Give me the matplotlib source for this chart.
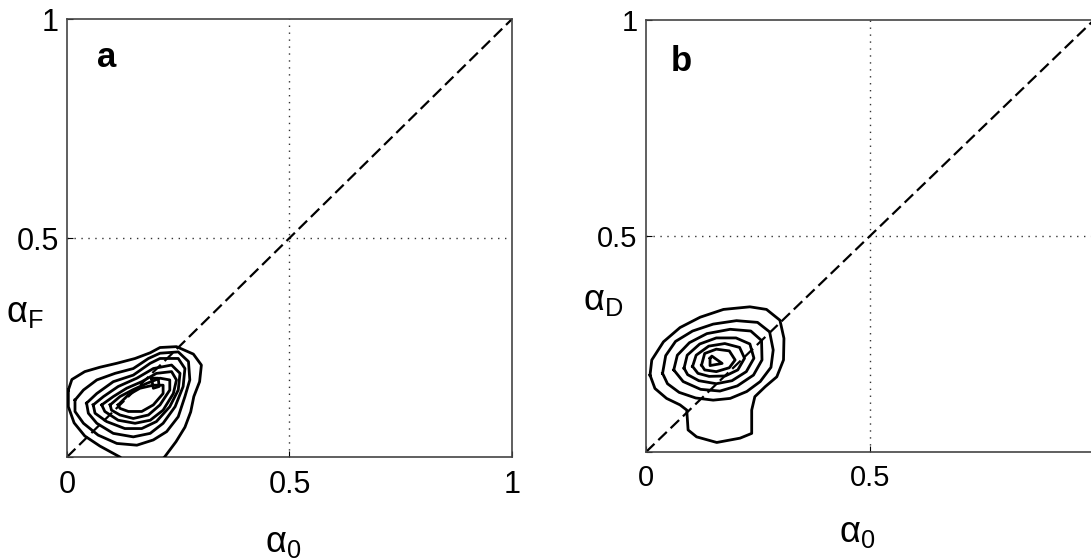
import numpy as np
import matplotlib
matplotlib.use('Agg')
import matplotlib.pyplot as plt

plt.rcParams['font.family'] = ['Liberation Sans', 'DejaVu Sans']
plt.rcParams['mathtext.default'] = 'regular'

# axis ticks shared by both panels
ticks = [0, 0.5, 1]
x_labels_a = ['0', '0.5', '1']
x_labels_b = ['0', '0.5', '']
y_labels = ['', '0.5', '1']

# contour lines of panel a (alpha_0 vs alpha_F), outer -> inner
a_rings = [
    [(0.003, 0.153), (0.011, 0.177), (0.040, 0.195), (0.074, 0.205), (0.112, 0.214),
     (0.153, 0.225), (0.187, 0.238), (0.209, 0.250), (0.246, 0.252), (0.284, 0.235),
     (0.302, 0.210), (0.298, 0.172), (0.285, 0.138), (0.278, 0.103), (0.265, 0.068),
     (0.245, 0.035), (0.220, 0.001), (0.20, -0.02), (0.14, -0.02), (0.119, 0.0),
     (0.074, 0.025), (0.040, 0.048), (0.016, 0.078), (0.003, 0.115)],
    [(0.018, 0.130), (0.037, 0.153), (0.067, 0.176), (0.108, 0.191), (0.149, 0.202),
     (0.183, 0.225), (0.209, 0.237), (0.250, 0.240), (0.273, 0.218), (0.276, 0.176),
     (0.265, 0.138), (0.250, 0.092), (0.224, 0.058), (0.194, 0.039), (0.157, 0.027),
     (0.112, 0.031), (0.070, 0.050), (0.037, 0.077), (0.018, 0.104)],
    [(0.044, 0.123), (0.067, 0.145), (0.104, 0.172), (0.149, 0.187), (0.187, 0.214),
     (0.209, 0.225), (0.250, 0.225), (0.265, 0.202), (0.261, 0.161), (0.243, 0.115),
     (0.216, 0.077), (0.187, 0.054), (0.149, 0.046), (0.104, 0.054), (0.067, 0.077),
     (0.048, 0.100)],
    [(0.059, 0.119), (0.082, 0.138), (0.115, 0.161), (0.157, 0.180), (0.194, 0.202),
     (0.235, 0.210), (0.254, 0.191), (0.250, 0.153), (0.231, 0.115), (0.201, 0.081),
     (0.168, 0.065), (0.130, 0.065), (0.089, 0.081), (0.063, 0.100)],
    [(0.078, 0.119), (0.104, 0.138), (0.134, 0.157), (0.168, 0.172), (0.201, 0.191),
     (0.235, 0.195), (0.246, 0.176), (0.239, 0.145), (0.216, 0.107), (0.187, 0.084),
     (0.153, 0.077), (0.115, 0.084), (0.085, 0.104)],
    [(0.097, 0.119), (0.119, 0.138), (0.149, 0.154), (0.179, 0.168), (0.209, 0.180),
     (0.231, 0.176), (0.231, 0.153), (0.209, 0.119), (0.183, 0.096), (0.149, 0.088),
     (0.119, 0.096), (0.100, 0.107)],
    [(0.115, 0.119), (0.138, 0.142), (0.164, 0.157), (0.194, 0.164), (0.216, 0.164),
     (0.216, 0.145), (0.194, 0.119), (0.168, 0.104), (0.138, 0.104), (0.119, 0.111)],
    [(0.190, 0.180), (0.205, 0.180), (0.207, 0.161), (0.194, 0.157)],
]

# contour lines of panel b (alpha_0 vs alpha_D), outer -> inner
b_rings = [
    [(0.009, 0.178), (0.013, 0.213), (0.039, 0.255), (0.076, 0.288), (0.121, 0.312),
     (0.173, 0.330), (0.232, 0.336), (0.269, 0.330), (0.299, 0.305), (0.308, 0.263),
     (0.307, 0.213), (0.292, 0.174), (0.266, 0.151), (0.243, 0.128), (0.236, 0.097),
     (0.236, 0.043), (0.210, 0.032), (0.158, 0.022), (0.113, 0.035), (0.094, 0.051),
     (0.091, 0.097), (0.076, 0.109), (0.046, 0.124), (0.020, 0.147)],
    [(0.037, 0.182), (0.044, 0.223), (0.066, 0.256), (0.104, 0.280), (0.150, 0.296),
     (0.202, 0.304), (0.249, 0.300), (0.276, 0.278), (0.284, 0.236), (0.279, 0.196),
     (0.255, 0.163), (0.225, 0.140), (0.188, 0.124), (0.150, 0.120), (0.111, 0.125),
     (0.074, 0.138), (0.048, 0.158)],
    [(0.062, 0.190), (0.070, 0.224), (0.097, 0.253), (0.136, 0.274), (0.188, 0.284),
     (0.234, 0.280), (0.258, 0.258), (0.259, 0.213), (0.240, 0.178), (0.204, 0.153),
     (0.165, 0.141), (0.122, 0.145), (0.083, 0.163)],
    [(0.085, 0.194), (0.092, 0.224), (0.120, 0.250), (0.157, 0.264), (0.201, 0.264),
     (0.232, 0.250), (0.241, 0.217), (0.224, 0.186), (0.192, 0.165), (0.157, 0.158),
     (0.118, 0.165), (0.093, 0.179)],
    [(0.104, 0.198), (0.112, 0.224), (0.140, 0.245), (0.176, 0.251), (0.209, 0.242),
     (0.220, 0.217), (0.205, 0.190), (0.177, 0.176), (0.141, 0.175), (0.116, 0.182)],
    [(0.124, 0.201), (0.131, 0.228), (0.157, 0.238), (0.186, 0.234), (0.199, 0.213),
     (0.186, 0.195), (0.157, 0.186), (0.131, 0.190)],
    [(0.143, 0.217), (0.147, 0.222), (0.170, 0.205), (0.143, 0.200)],
]

diag = [0, 1]


def draw_panel(ax, rings, letter, letter_xy, fs, xlabels):
    ax.set_xlim(0, 1)
    ax.set_ylim(0, 1)
    ax.axvline(0.5, color='#333333', lw=1.0, ls=(0, (1, 4)), zorder=1)
    ax.axhline(0.5, color='#333333', lw=1.0, ls=(0, (1, 4)), zorder=1)
    ax.plot(diag, diag, color='black', lw=1.6, dashes=(5.3, 2.4), zorder=2)
    for ring in rings:
        pts = np.array(ring + [ring[0]])
        ax.plot(pts[:, 0], pts[:, 1], color='black', lw=2.0, zorder=3,
                solid_joinstyle='round')
    ax.set_xticks(ticks)
    ax.set_xticklabels(xlabels)
    ax.set_yticks(ticks)
    ax.set_yticklabels(y_labels)
    ax.tick_params(direction='in', length=4, width=0.8, labelsize=fs,
                   top=False, right=False)
    ax.tick_params(axis='x', pad=9)
    ax.tick_params(axis='y', pad=6)
    for sp in ax.spines.values():
        sp.set_color('#444444')
        sp.set_linewidth(1.2)
    ax.text(letter_xy[0], letter_xy[1], letter, transform=ax.transAxes,
            fontsize=25, fontweight='bold', ha='center', va='center')


fig = plt.figure(figsize=(10.91, 5.6), dpi=100)

ax_a = fig.add_axes([0.0614, 0.1839, 0.4079, 0.7821])
draw_panel(ax_a, a_rings, 'a', (0.088, 0.913), 22, x_labels_a)

ax_b = fig.add_axes([0.5921, 0.1929, 0.4106, 0.7714])
draw_panel(ax_b, b_rings, 'b', (0.078, 0.903), 21, x_labels_b)

fig.text(0.023, 0.442, r'$\alpha_F$', fontsize=26, ha='center', va='center')
fig.text(0.260, 0.032, r'$\alpha_0$', fontsize=26, ha='center', va='center')
fig.text(0.553, 0.464, r'$\alpha_D$', fontsize=26, ha='center', va='center')
fig.text(0.786, 0.050, r'$\alpha_0$', fontsize=26, ha='center', va='center')

fig.savefig('out.png', dpi=100)
